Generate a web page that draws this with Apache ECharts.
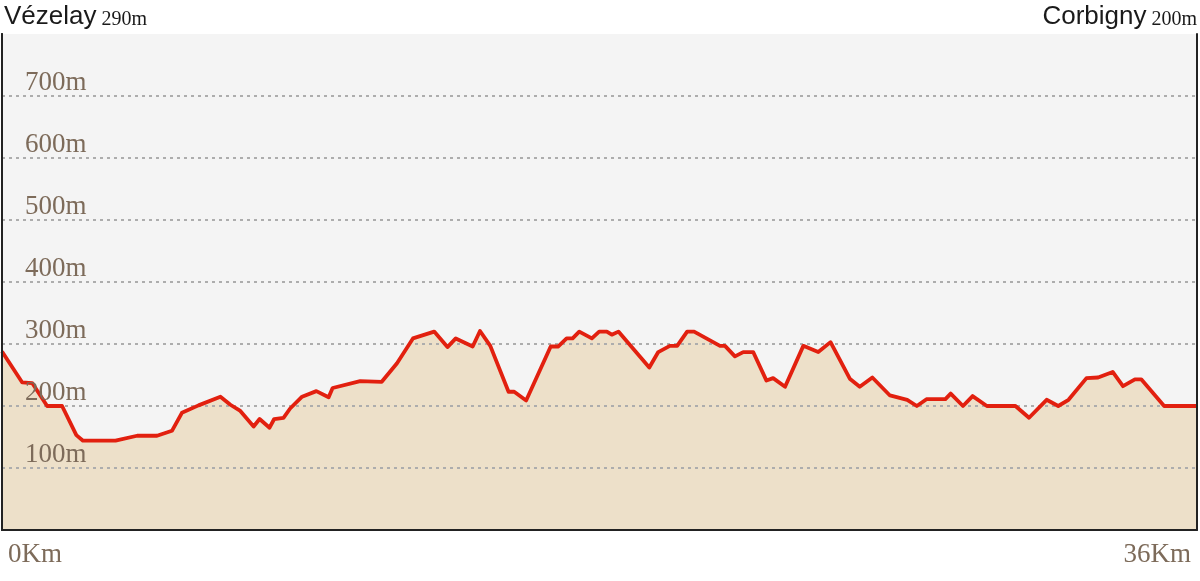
<!DOCTYPE html>
<html><head><meta charset="utf-8">
<script src="https://cdn.jsdelivr.net/npm/echarts@6/dist/echarts.min.js"></script>
<style>html,body{margin:0;padding:0;background:#fff}#c{width:1200px;height:581px}</style>
</head><body><div id="c"></div>
<script>
const startName = 'Vézelay', startAlt = '290m';
const endName = 'Corbigny', endAlt = '200m';
const distanceKm = [0, 0.61, 0.91, 1.36, 1.81, 2.24, 2.44, 3.42, 4.07, 4.67, 5.12, 5.42, 5.92, 6.58, 6.88, 7.18, 7.58, 7.76, 8.06, 8.20, 8.48, 8.68, 9.04, 9.47, 9.84, 9.96, 10.79, 11.44, 11.90, 12.38, 13.02, 13.42, 13.67, 14.18, 14.40, 14.71, 15.26, 15.43, 15.79, 16.53, 16.76, 17.01, 17.19, 17.39, 17.77, 17.99, 18.22, 18.37, 18.57, 19.50, 19.77, 20.12, 20.34, 20.64, 20.85, 21.63, 21.78, 22.08, 22.33, 22.63, 23.03, 23.23, 23.59, 24.14, 24.59, 24.96, 25.54, 25.84, 26.22, 26.75, 27.27, 27.56, 27.85, 28.42, 28.58, 28.95, 29.24, 29.67, 30.53, 30.94, 31.47, 31.82, 32.13, 32.67, 33.02, 33.46, 33.77, 34.13, 34.32, 35.01, 36];
const elevation = [288, 238, 237, 200, 200, 153, 144, 144, 152, 152, 160, 189, 201, 215, 202, 192, 167, 179, 165, 179, 181, 196, 215, 224, 214, 229, 240, 239, 269, 309, 320, 295, 309, 296, 321, 297, 223, 223, 209, 296, 296, 309, 309, 320, 309, 320, 320, 315, 320, 262, 287, 297, 297, 320, 320, 297, 297, 280, 287, 287, 241, 245, 231, 297, 287, 303, 244, 231, 246, 217, 210, 200, 211, 211, 220, 200, 216, 200, 200, 181, 210, 200, 210, 245, 246, 255, 232, 243, 243, 200, 200];
const yTicks = [0, 100, 200, 300, 400, 500, 600, 700, 800];
const xTicks = [0, 36];

const chart = echarts.init(document.getElementById('c'), null, {renderer: 'canvas'});
const labelColor = '#7d6b5a';
const titleRich = {
  a: {fontFamily: 'Liberation Sans', fontSize: 26, fontWeight: 'normal', color: '#1a1a1a'},
  b: {fontFamily: 'Liberation Serif', fontSize: 20, fontWeight: 'normal', color: '#1a1a1a', verticalAlign: 'bottom'}
};
const yMin = yTicks[0], yMax = yTicks[yTicks.length - 1];
const points = distanceKm.map((d, i) => [d, elevation[i]]);
chart.setOption({
  animation: false,
  title: [
    {left: -1, top: -1, text: '{a|' + startName + '} {b|' + startAlt + '}', textStyle: {rich: titleRich}},
    {right: -2, top: -1, text: '{a|' + endName + '} {b|' + endAlt + '}', textStyle: {rich: titleRich}}
  ],
  grid: {left: 2, right: 3, top: 34, bottom: 51, show: true, backgroundColor: '#f4f4f4', borderWidth: 0},
  xAxis: {
    type: 'value', min: xTicks[0], max: xTicks[xTicks.length-1], interval: 36, z: 6,
    axisLine: {show: true, lineStyle: {color: '#222', width: 2}},
    axisTick: {show: false},
    splitLine: {show: false},
    axisLabel: {formatter: v => v + 'Km', fontFamily: 'Liberation Serif', fontSize: 27, color: labelColor,
                margin: 11, alignMinLabel: 'left', alignMaxLabel: 'right', padding: [0, 6, 0, 6]}
  },
  yAxis: [{
    type: 'value', min: yMin, max: yMax, interval: 100, z: 2,
    axisLine: {show: true, lineStyle: {color: '#222', width: 2}},
    axisTick: {show: false},
    splitLine: {show: true, showMinLine: false, showMaxLine: false, lineStyle: {color: '#adadad', width: 2, type: [3, 4]}},
    axisLabel: {show: false}
  }, {
    type: 'value', position: 'right', min: yMin, max: yMax, interval: 100, z: 6,
    axisLine: {show: true, lineStyle: {color: '#222', width: 2}},
    axisTick: {show: false}, axisLabel: {show: false}, splitLine: {show: false}
  }, {
    type: 'value', position: 'left', min: yMin, max: yMax, interval: 100, z: 5,
    axisLine: {show: true, lineStyle: {color: '#222', width: 2}},
    axisTick: {show: false}, splitLine: {show: false},
    axisLabel: {inside: true, margin: 23, verticalAlign: 'bottom', showMinLabel: false, showMaxLabel: false,
                formatter: v => v + 'm', fontFamily: 'Liberation Serif', fontSize: 27, color: labelColor}
  }],
  series: [{
    type: 'line', showSymbol: false, symbol: 'none', data: points,
    lineStyle: {width: 0, opacity: 0},
    areaStyle: {color: '#ede0c9', opacity: 1},
    z: 1, silent: true
  }, {
    type: 'line', showSymbol: false, symbol: 'none', data: points,
    lineStyle: {color: '#e2200f', width: 3.8, join: 'round'},
    z: 3
  }]
});
</script></body></html>
